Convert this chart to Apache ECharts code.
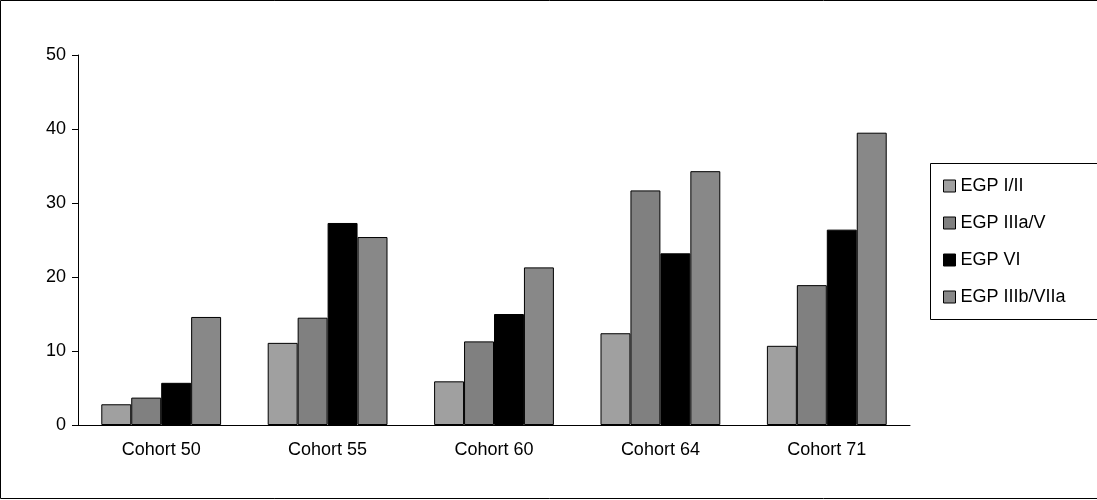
<!DOCTYPE html>
<html>
<head>
<meta charset="UTF-8">
<script src="https://cdn.jsdelivr.net/npm/echarts@6/dist/echarts.min.js"></script>
</head>
<body style="margin:0">
<div id="chart" style="width:1097px;height:500px;"></div>
<script>
var categories = ['Cohort 50', 'Cohort 55', 'Cohort 60', 'Cohort 64', 'Cohort 71'];
var seriesNames = ['EGP I/II', 'EGP IIIa/V', 'EGP VI', 'EGP IIIb/VIIa'];
var seriesColors = ['#a0a0a0', '#808080', '#000000', '#888888'];
var values = [
  [2.8, 11.1, 5.9, 12.4, 10.7],
  [3.7, 14.5, 11.3, 31.7, 18.9],
  [5.7, 27.3, 15.0, 23.2, 26.4],
  [14.6, 25.4, 21.3, 34.3, 39.5]
];

var chart = echarts.init(document.getElementById('chart'));
var font = 'Liberation Sans, Arial, sans-serif';
chart.setOption({
  animation: false,
  textStyle: { fontFamily: font },
  graphic: [
    { type: 'rect', shape: { x: 0.5, y: 0.5, width: 1110, height: 498 }, style: { fill: 'none', stroke: '#000', lineWidth: 1 } },
    { type: 'rect', shape: { x: 930.5, y: 163.5, width: 200, height: 156 }, style: { fill: '#fff', stroke: '#000', lineWidth: 1 } }
  ],
  legend: {
    orient: 'vertical', left: 938, top: 172, itemGap: 19,
    itemWidth: 12, itemHeight: 12,
    textStyle: { fontSize: 18, color: '#000', fontFamily: font },
    data: seriesNames.map(function (n, i) {
      return { name: n, icon: 'rect', itemStyle: { color: seriesColors[i], borderColor: '#000', borderWidth: 1 } };
    })
  },
  grid: { left: 78, top: 55, width: 832, height: 370 },
  xAxis: {
    type: 'category', data: categories,
    axisLine: { lineStyle: { color: '#000' } },
    axisTick: { length: 6, lineStyle: { color: '#000' } },
    axisLabel: { fontSize: 18, color: '#000', margin: 16 }
  },
  yAxis: {
    type: 'value', min: 0, max: 50, interval: 10,
    axisLine: { show: true, lineStyle: { color: '#000' } },
    axisTick: { show: true, length: 6, lineStyle: { color: '#000' } },
    axisLabel: { fontSize: 18, color: '#000', margin: 12 },
    splitLine: { show: false }
  },
  series: seriesNames.map(function (n, i) {
    return {
      name: n, type: 'bar', data: values[i],
      barGap: '0%', barCategoryGap: '28%',
      itemStyle: { color: seriesColors[i], borderColor: '#000', borderWidth: 1 }
    };
  })
});
</script>
</body>
</html>
